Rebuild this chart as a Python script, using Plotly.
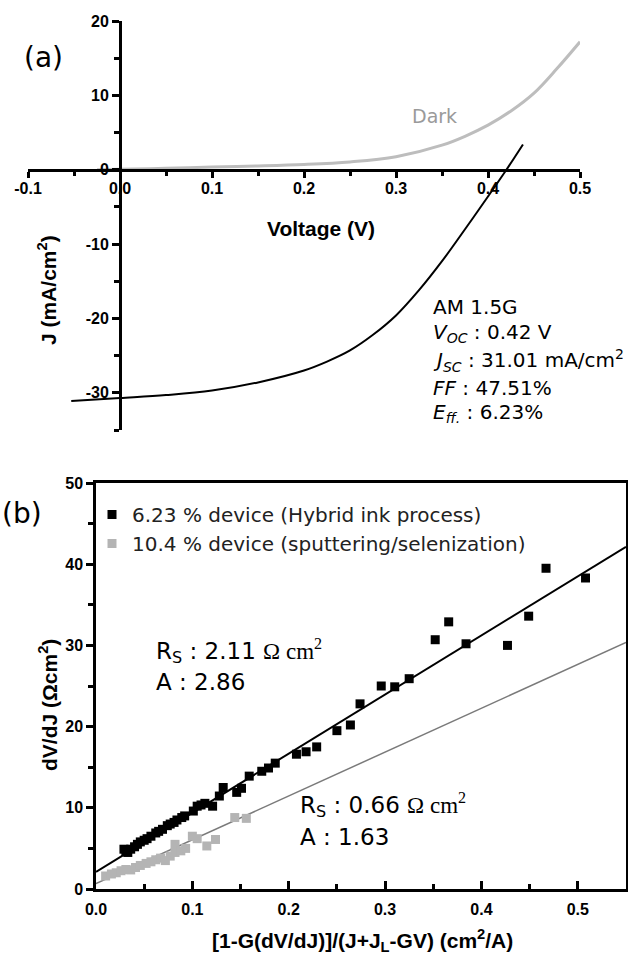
import plotly.graph_objects as go

W, H = 628, 957

# ---------------- Data: panel (a) J-V curves ----------------
light_v = [-0.053, 0.0, 0.05, 0.10, 0.15, 0.20, 0.225, 0.25, 0.275, 0.30, 0.325, 0.35, 0.375, 0.40, 0.42, 0.438]
light_j = [-31.1, -30.7, -30.3, -29.7, -28.6, -27.0, -25.8, -24.3, -22.2, -19.6, -16.2, -12.3, -8.0, -3.6, 0.0, 3.4]

dark_v = [-0.025, 0.0, 0.05, 0.10, 0.15, 0.20, 0.25, 0.30, 0.35, 0.375, 0.40, 0.425, 0.45, 0.475, 0.50]
dark_j = [0.0, 0.05, 0.2, 0.35, 0.5, 0.7, 1.05, 1.75, 3.3, 4.5, 6.0, 7.9, 10.3, 13.6, 17.2]

a_xticks = [-0.1, 0.0, 0.1, 0.2, 0.3, 0.4, 0.5]
a_xticktext = ["-0.1", "0.0", "0.1", "0.2", "0.3", "0.4", "0.5"]
a_yticks = [20, 10, 0, -10, -20, -30]
a_yticktext = ["20", "10", "0", "-10", "-20", "-30"]

# ---------------- Data: panel (b) dV/dJ ----------------
hyb_x = [0.029, 0.031, 0.033, 0.036, 0.040, 0.043, 0.046, 0.050, 0.053, 0.057, 0.062, 0.065,
         0.069, 0.074, 0.077, 0.081, 0.084, 0.089, 0.092, 0.101, 0.105, 0.109, 0.113, 0.121,
         0.128, 0.132, 0.146, 0.151, 0.159, 0.172, 0.179, 0.186, 0.208, 0.218, 0.229, 0.250,
         0.264, 0.274, 0.296, 0.310, 0.325, 0.352, 0.366, 0.384, 0.427, 0.449, 0.467, 0.508]
hyb_y = [4.9, 4.6, 4.5, 4.9, 5.2, 5.5, 5.8, 6.0, 6.2, 6.5, 6.9, 7.1,
         7.35, 7.8, 8.0, 8.2, 8.5, 8.8, 9.0, 9.6, 10.2, 10.35, 10.55, 10.2,
         11.45, 12.5, 11.9, 12.4, 13.9, 14.5, 14.9, 15.5, 16.6, 16.9, 17.5, 19.5,
         20.2, 22.8, 25.0, 24.9, 25.9, 30.7, 32.9, 30.2, 30.0, 33.6, 39.5, 38.3]

sput_x = [0.010, 0.016, 0.021, 0.026, 0.031, 0.036, 0.041, 0.046, 0.052, 0.057, 0.062, 0.067,
          0.072, 0.077, 0.082, 0.082, 0.088, 0.093, 0.100, 0.105, 0.115, 0.124, 0.144, 0.156]
sput_y = [1.6, 1.85, 2.0, 2.25, 2.4, 2.35, 2.65, 2.9, 3.15, 3.35, 3.6, 3.8,
          3.5, 4.05, 4.5, 5.5, 4.7, 5.0, 6.5, 6.2, 5.3, 6.1, 8.8, 8.7]

# linear fits (intercept, slope)
hyb_fit = (2.11, 72.8)
sput_fit = (0.66, 54.0)
fit_x = [0.0, 0.55]

b_xticks = [0.0, 0.1, 0.2, 0.3, 0.4, 0.5]
b_xticktext = ["0.0", "0.1", "0.2", "0.3", "0.4", "0.5"]
b_yticks = [0, 10, 20, 30, 40, 50]

legend_names = ["6.23 % device (Hybrid ink process)", "10.4 % device (sputtering/selenization)"]


def fx(p):
    return p / W


def fy(p):
    return 1 - p / H


TICKFONT = dict(family="Liberation Sans, Arial", size=16, color="black", weight="bold")
TEXTFONT = "DejaVu Sans, Verdana"

fig = go.Figure()

# panel (a)
fig.add_trace(go.Scatter(x=dark_v, y=dark_j, mode="lines", line=dict(color="#bdbdbd", width=3, shape="spline"),
                         showlegend=False, xaxis="x", yaxis="y"))
fig.add_trace(go.Scatter(x=light_v, y=light_j, mode="lines", line=dict(color="black", width=2, shape="spline"),
                         showlegend=False, xaxis="x", yaxis="y"))

# panel (b)
fig.add_trace(go.Scatter(x=fit_x, y=[hyb_fit[0] + hyb_fit[1] * v for v in fit_x], mode="lines",
                         line=dict(color="black", width=2), showlegend=False, xaxis="x2", yaxis="y2"))
fig.add_trace(go.Scatter(x=fit_x, y=[sput_fit[0] + sput_fit[1] * v for v in fit_x], mode="lines",
                         line=dict(color="#7a7a7a", width=1.5), showlegend=False, xaxis="x2", yaxis="y2"))
fig.add_trace(go.Scatter(x=sput_x, y=sput_y, mode="markers", name=legend_names[1],
                         marker=dict(symbol="square", size=9, color="#b4b4b4"), xaxis="x2", yaxis="y2"))
fig.add_trace(go.Scatter(x=hyb_x, y=hyb_y, mode="markers", name=legend_names[0],
                         marker=dict(symbol="square", size=9, color="black"), xaxis="x2", yaxis="y2"))

# geometry
a_xdom = [fx(28), fx(580)]
a_ydom = [fy(430), fy(21)]
a_xr = [-0.1, 0.5]
a_yr = [-35, 20]
x_axis_pos = a_ydom[0] + (0 - a_yr[0]) / (a_yr[1] - a_yr[0]) * (a_ydom[1] - a_ydom[0])
y_axis_pos = a_xdom[0] + (0 - a_xr[0]) / (a_xr[1] - a_xr[0]) * (a_xdom[1] - a_xdom[0])

fig.update_layout(
    width=W, height=H, autosize=False,
    margin=dict(l=0, r=0, t=0, b=0, pad=0, autoexpand=False),
    paper_bgcolor="white", plot_bgcolor="rgba(0,0,0,0)",
    xaxis=dict(domain=a_xdom, range=a_xr, anchor="free", position=x_axis_pos, automargin=False,
               showgrid=False, zeroline=False, showline=True, linecolor="black", linewidth=3,
               tickvals=a_xticks, ticktext=a_xticktext, ticks="outside", ticklen=6, tickwidth=2.5,
               tickcolor="black", tickfont=TICKFONT, ticklabelstandoff=-3,
               minor=dict(ticks="outside", dtick=0.05, tick0=0, ticklen=4, tickwidth=2.5, tickcolor="black")),
    yaxis=dict(domain=a_ydom, range=a_yr, anchor="free", position=y_axis_pos, automargin=False,
               showgrid=False, zeroline=False, showline=True, linecolor="black", linewidth=3,
               tickvals=a_yticks, ticktext=a_yticktext, ticks="outside", ticklen=7, tickwidth=2.5,
               tickcolor="black", tickfont=TICKFONT,
               minor=dict(ticks="outside", dtick=5, tick0=0, ticklen=5, tickwidth=2.5, tickcolor="black")),
    xaxis2=dict(domain=[fx(96), fx(626)], range=[0, 0.55], anchor="y2", automargin=False,
                showgrid=False, zeroline=False, showline=True, mirror=True, linecolor="black", linewidth=2.5,
                tickvals=b_xticks, ticktext=b_xticktext, ticks="inside", ticklen=8, tickwidth=2.5,
                tickcolor="black", tickfont=TICKFONT, ticklabelstandoff=4,
                minor=dict(ticks="inside", dtick=0.05, tick0=0, ticklen=5, tickwidth=2.5, tickcolor="black")),
    yaxis2=dict(domain=[fy(889), fy(483)], range=[0, 50], anchor="x2", automargin=False,
                showgrid=False, zeroline=False, showline=True, mirror=True, linecolor="black", linewidth=2.5,
                tickvals=b_yticks, ticks="outside", ticklen=7, tickwidth=2.5,
                tickcolor="black", tickfont=TICKFONT,
                minor=dict(ticks="outside", dtick=5, tick0=0, ticklen=5, tickwidth=2.5, tickcolor="black")),
    legend=dict(x=fx(92), y=fy(495), xanchor="left", yanchor="top", bgcolor="rgba(0,0,0,0)",
                font=dict(family=TEXTFONT, size=20, color="#222"), traceorder="reversed",
                tracegroupgap=0, itemwidth=30),
    showlegend=True,
)

ann = []


def add_text(text, x, y, size, family=TEXTFONT, color="black", xanchor="left", angle=0, weight="normal"):
    ann.append(dict(text=text, x=fx(x), y=fy(y), xref="paper", yref="paper", showarrow=False,
                    xanchor=xanchor, yanchor="middle", textangle=angle,
                    font=dict(family=family, size=size, color=color, weight=weight)))


BOLD = "Liberation Sans, Arial"
# panel labels
add_text("(a)", 22, 58, 28)
add_text("(b)", 0, 513, 28)
# axis titles
add_text("Voltage (V)", 321, 228, 21, family=BOLD, xanchor="center", weight="bold")
add_text("J (mA/cm<sup>2</sup>)", 47, 290, 21, family=BOLD, xanchor="center", angle=-90, weight="bold")
add_text("[1-G(dV/dJ)]/(J+J<sub>L</sub>-GV) (cm<sup>2</sup>/A)", 362, 940, 21, family=BOLD, xanchor="center",
         weight="bold")
add_text("dV/dJ (Ωcm<sup>2</sup>)", 48, 705, 21, family=BOLD, xanchor="center", angle=-90, weight="bold")
# panel (a) notes
add_text("Dark", 434, 116, 19, color="#9a9a9a", xanchor="center")
add_text("AM 1.5G", 431, 307, 20)
add_text("<i>V<sub>OC</sub></i> : 0.42 V", 431, 333, 20)
add_text("<i>J<sub>SC</sub></i> : 31.01 mA/cm<sup>2</sup>", 431, 361, 20)
add_text("<i>FF</i> : 47.51%", 431, 388, 20)
add_text("<i>E<sub>ff.</sub></i> : 6.23%", 431, 413, 20)
# panel (b) notes
SERIF = "font-family:'Liberation Serif','Times New Roman',serif"
add_text("R<sub>S</sub> : 2.11 <span style=\"" + SERIF + "\">Ω cm<sup>2</sup></span>", 154, 651, 23)
add_text("A : 2.86", 154, 682, 23)
add_text("R<sub>S</sub> : 0.66 <span style=\"" + SERIF + "\">Ω cm<sup>2</sup></span>", 298, 805, 23)
add_text("A : 1.63", 298, 837, 23)

fig.update_layout(annotations=ann)

fig.write_html("out.html", config={"responsive": False},
               post_script="document.body.style.margin='0px';document.body.style.padding='0px';")
